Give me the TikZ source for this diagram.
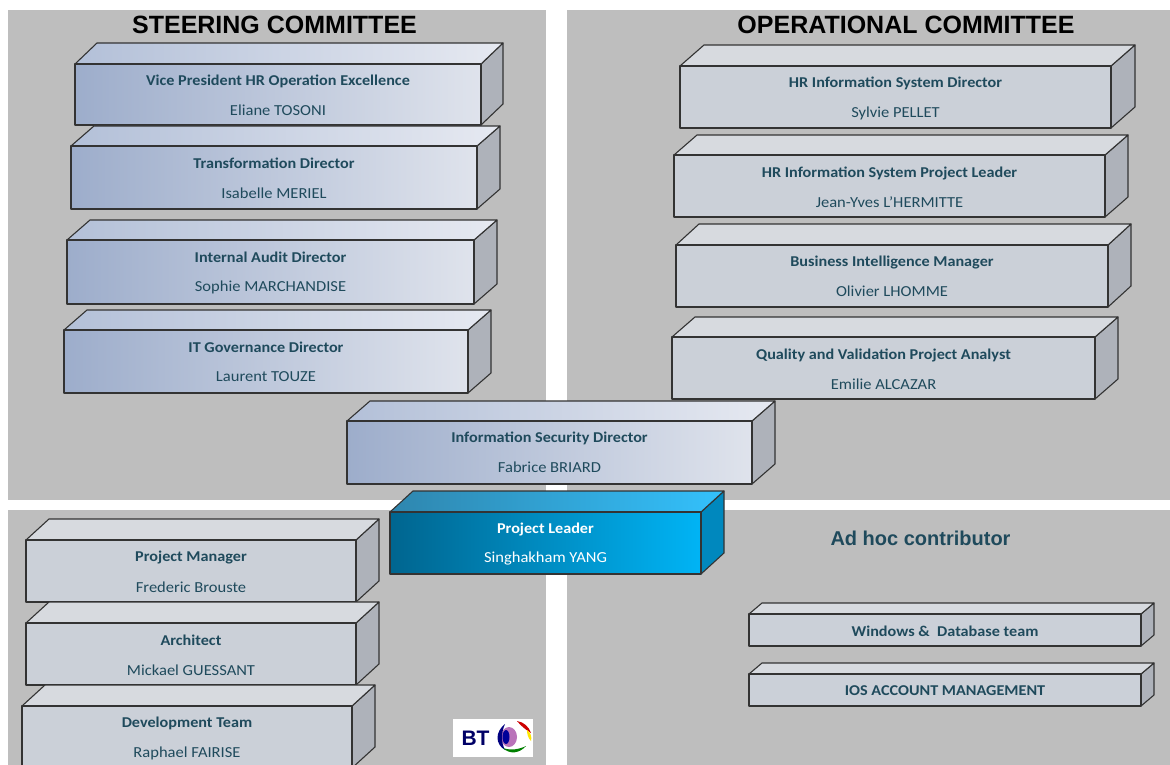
\documentclass[tikz,border=0pt]{standalone}
\usepackage{fontspec}
\setmainfont[FakeStretch=1.08]{Carlito}
\newfontfamily\headfont{Liberation Sans}
\definecolor{panelgrey}{HTML}{BEBEBE}
\definecolor{labelteal}{HTML}{1F4A5C}
\definecolor{steelL}{HTML}{9DADCB}
\definecolor{steelR}{HTML}{DFE3EC}
\definecolor{steeltopL}{HTML}{B3C0D8}
\definecolor{steeltopR}{HTML}{E6E9F1}
\definecolor{plainfrontc}{HTML}{CBD0D8}
\definecolor{plaintopc}{HTML}{D7DADF}
\definecolor{plainsidec}{HTML}{AEB2BA}
\definecolor{leadL}{HTML}{00658F}
\definecolor{leadR}{HTML}{00B4F5}
\definecolor{leadtopL}{HTML}{2F86AE}
\definecolor{leadtopR}{HTML}{33C1FC}
\definecolor{leadsidec}{HTML}{0088BE}
\tikzset{
	edgeline/.style={draw=black!80,line width=1.1pt,line join=round},
	steelfront/.style={edgeline,left color=steelL,right color=steelR},
	steeltop/.style={edgeline,left color=steeltopL,right color=steeltopR},
	steelside/.style={edgeline,fill=plainsidec},
	plainfront/.style={edgeline,fill=plainfrontc},
	plaintop/.style={edgeline,fill=plaintopc},
	plainside/.style={edgeline,fill=plainsidec},
	leadfront/.style={edgeline,left color=leadL,right color=leadR},
	leadtop/.style={edgeline,left color=leadtopL,right color=leadtopR},
	leadside/.style={edgeline,fill=leadsidec},
	titletext/.style={font=\fontsize{15}{17}\selectfont\bfseries,text=labelteal,inner sep=0pt},
	nametext/.style={font=\fontsize{15.3}{17}\selectfont,text=labelteal,inner sep=0pt},
	headtext/.style={font=\headfont\fontsize{25}{29}\selectfont\bfseries,text=black,inner sep=0pt},
}
% id, x0, y0, x1, y1, depth x, depth y, look (steel, plain or lead)
\newcommand{\blockbox}[8]{
	\pgfmathsetmacro{\bw}{#4-#2}
	\pgfmathsetmacro{\bh}{#5-#3}
	\draw[#8side] (#4,#3)--++(#6,-#7)--++(0,\bh)--++(-#6,#7)--cycle;
	\draw[#8top] (#2,#3)--++(#6,-#7)--(#4+#6,#3-#7)--(#4,#3)--cycle;
	\node[#8front,minimum width=\bw pt,minimum height=\bh pt,inner sep=0pt,outer sep=0pt,anchor=north west] (#1) at (#2,#3) {};
}
\begin{document}
\begin{tikzpicture}[x=1pt,y=-1pt]
	\useasboundingbox (0,0) rectangle (1170,765);
	\clip (0,0) rectangle (1170,765);
	% grey panels
	\fill[panelgrey] (8,10) rectangle (546,500);
	\fill[panelgrey] (567,10) rectangle (1170,500);
	\fill[panelgrey] (8,510) rectangle (546,765);
	\fill[panelgrey] (567,510) rectangle (1170,765);
	\node[headtext] (steerhead) at (274.5,25) {STEERING COMMITTEE};
	\node[headtext] (opshead) at (906,25) {OPERATIONAL COMMITTEE};
	% steering committee
	\blockbox{vice}{75}{64}{481}{125}{22}{21}{steel}
	\node[titletext] (vicet) at ([yshift=-17.5pt]vice.north) {Vice President HR Operation Excellence};
	\node[nametext] (vicen) at ([yshift=-46pt]vice.north) {Eliane TOSONI};
	\blockbox{transf}{71}{146}{477}{209}{23}{20}{steel}
	\node[titletext] (transft) at ([yshift=-17.5pt]transf.north) {Transformation Director};
	\node[nametext] (transfn) at ([yshift=-47pt]transf.north) {Isabelle MERIEL};
	\blockbox{audit}{67}{240}{474}{304}{23}{20}{steel}
	\node[titletext] (auditt) at ([yshift=-17.5pt]audit.north) {Internal Audit Director};
	\node[nametext] (auditn) at ([yshift=-47pt]audit.north) {Sophie MARCHANDISE};
	\blockbox{itgov}{64}{330}{468}{393}{23}{20}{steel}
	\node[titletext] (itgovt) at ([yshift=-17.5pt]itgov.north) {IT Governance Director};
	\node[nametext] (itgovn) at ([yshift=-47pt]itgov.north) {Laurent TOUZE};
	\blockbox{infosec}{347}{421}{752}{484}{23}{20}{steel}
	\node[titletext] (infosect) at ([yshift=-17.5pt]infosec.north) {Information Security Director};
	\node[nametext] (infosecn) at ([yshift=-46pt]infosec.north) {Fabrice BRIARD};
	% project leader
	\blockbox{leader}{390}{512}{701}{574}{23}{21}{lead}
	\node[titletext,text=white] (leadert) at ([yshift=-17.5pt]leader.north) {Project Leader};
	\node[nametext,text=white] (leadern) at ([yshift=-46pt]leader.north) {Singhakham YANG};
	% project team
	\blockbox{manager}{26}{540}{356}{602}{23}{21}{plain}
	\node[titletext] (managert) at ([yshift=-17.5pt]manager.north) {Project Manager};
	\node[nametext] (managern) at ([yshift=-47pt]manager.north) {Frederic Brouste};
	\blockbox{archi}{26}{623}{356}{685}{23}{21}{plain}
	\node[titletext] (archit) at ([yshift=-17.5pt]archi.north) {Architect};
	\node[nametext] (archin) at ([yshift=-47pt]archi.north) {Mickael GUESSANT};
	\blockbox{devteam}{22}{706}{352}{768}{23}{21}{plain}
	\node[titletext] (devteamt) at ([yshift=-17.5pt]devteam.north) {Development Team};
	\node[nametext] (devteamn) at ([yshift=-47pt]devteam.north) {Raphael FAIRISE};
	% operational committee
	\blockbox{hrdir}{680}{66}{1111}{128}{24}{21}{plain}
	\node[titletext] (hrdirt) at ([yshift=-17.5pt]hrdir.north) {HR Information System Director};
	\node[nametext] (hrdirn) at ([yshift=-47pt]hrdir.north) {Sylvie PELLET};
	\blockbox{hrlead}{674}{155}{1105}{217}{23}{20}{plain}
	\node[titletext] (hrleadt) at ([yshift=-18.5pt]hrlead.north) {HR Information System Project Leader};
	\node[nametext] (hrleadn) at ([yshift=-47pt]hrlead.north) {Jean-Yves L’HERMITTE};
	\blockbox{bizint}{676}{245}{1108}{307}{23}{21}{plain}
	\node[titletext] (bizintt) at ([yshift=-17.5pt]bizint.north) {Business Intelligence Manager};
	\node[nametext] (bizintn) at ([yshift=-46pt]bizint.north) {Olivier LHOMME};
	\blockbox{quality}{672}{337}{1095}{399}{23}{20}{plain}
	\node[titletext] (qualityt) at ([yshift=-18.5pt]quality.north) {Quality and Validation Project Analyst};
	\node[nametext] (qualityn) at ([yshift=-47pt]quality.north) {Emilie ALCAZAR};
	% ad hoc contributor
	\node[headtext,font=\headfont\fontsize{20}{23}\selectfont\bfseries,text=labelteal] (adhoc) at (920.5,538) {Ad hoc contributor};
	\blockbox{windows}{749}{614}{1141}{646}{13}{11}{plain}
	\node[titletext] (windowst) at ([yshift=-1pt]windows.center) {Windows \&\ \ Database team};
	\blockbox{iosacc}{749}{674}{1141}{706}{13}{11}{plain}
	\node[titletext] (iosacct) at ([yshift=-1pt]iosacc.center) {IOS ACCOUNT MANAGEMENT};
	% logo
	\node[fill=white,minimum width=80pt,minimum height=38pt,inner sep=0pt,outer sep=0pt,anchor=north west] (logo) at (453,719) {};
	\node[font=\headfont\fontsize{21}{23}\selectfont\bfseries,text=blue!40!black,inner sep=0pt] (logobt) at (475.5,738) {BT};
	\fill[violet!55] (509,737) ellipse (8pt and 10pt);
	\fill[blue!50!black] (505,724) .. controls (495,732) and (495,744) .. (505,750) .. controls (501,742) and (501,733) .. (505,724)--cycle;
	\fill[blue!60!black] (506,737) ellipse (3.5pt and 7pt);
	\fill[red!80!black] (517,721) .. controls (524,722) and (529,727) .. (531,733) .. controls (526,730) and (521,726) .. (517,721)--cycle;
	\fill[yellow!90!orange] (527,730) .. controls (531,733) and (532,737) .. (531,741) .. controls (528,738) and (527,734) .. (527,730)--cycle;
	\fill[green!50!black] (503,748) .. controls (510,755) and (520,753) .. (526,746) .. controls (520,749) and (511,751) .. (503,748)--cycle;
\end{tikzpicture}
\end{document}
